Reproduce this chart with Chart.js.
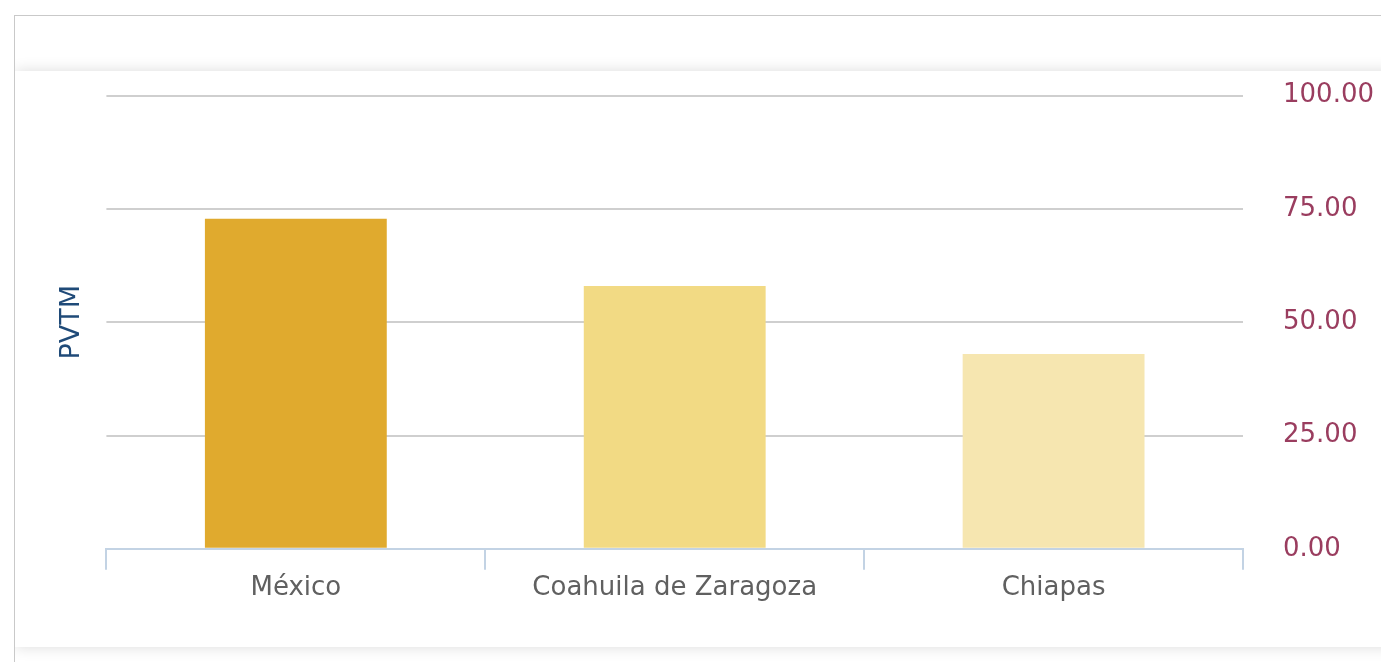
<!DOCTYPE html>
<html>
<head>
<meta charset="utf-8">
<script src="https://cdn.jsdelivr.net/npm/chart.js@4"></script>
<style>
  html, body { margin: 0; padding: 0; background: #fff; width: 1381px; height: 662px; overflow: hidden; }
  .frame { position: absolute; left: 14px; top: 15px; width: 1400px; height: 700px;
           border-left: 1px solid #c9c9c9; border-top: 1px solid #c9c9c9; overflow: hidden; }
  .panel { position: absolute; left: 0; top: 55px; width: 1420px; height: 576px; background: #fff;
           box-shadow: 0 0 14px rgba(0,0,0,0.14); }
  #wrap { position: absolute; left: -15px; top: 24px; width: 1418px; height: 607px; }
</style>
</head>
<body>
<div class="frame">
  <div class="panel"></div>
  <div id="wrap"><canvas id="chart"></canvas></div>
</div>
<script>
const categories = ['México', 'Coahuila de Zaragoza', 'Chiapas'];
const values = [72.8, 58.0, 43.0];
const barColors = ['#e0aa2e', '#f2da84', '#f6e6b0'];
const yTicks = [0, 25, 50, 75, 100];
const yTitle = 'PVTM';

const font = "'DejaVu Sans', sans-serif";

new Chart(document.getElementById('chart').getContext('2d'), {
  type: 'bar',
  data: {
    labels: categories,
    datasets: [{
      data: values,
      backgroundColor: barColors,
      borderWidth: 0,
      categoryPercentage: 1,
      barPercentage: 0.48,
      yAxisID: 'y'
    }]
  },
  options: {
    responsive: true,
    maintainAspectRatio: false,
    animation: false,
    layout: { padding: { left: 56, right: 4, top: 14, bottom: 40 } },
    plugins: { legend: { display: false }, tooltip: { enabled: false } },
    scales: {
      x: {
        grid: { offset: true, drawOnChartArea: false, drawTicks: true, tickLength: 21, color: '#c3d3e4', lineWidth: 2 },
        border: { display: true, color: '#c3d3e4', width: 2 },
        ticks: { color: '#606060', font: { family: font, size: 26 }, padding: 3 }
      },
      yLeft: {
        position: 'left',
        min: 0, max: 100,
        grid: { display: false },
        border: { display: false },
        ticks: { display: false },
        title: { display: true, text: yTitle, color: '#1f4a78', font: { family: font, size: 27 }, padding: { top: 0, bottom: 10 } }
      },
      y: {
        position: 'right',
        min: 0, max: 100,
        afterBuildTicks: s => { s.ticks = yTicks.map(v => ({ value: v })); },
        grid: {
          drawTicks: false,
          lineWidth: 2,
          color: c => c.tick && c.tick.value === 0 ? 'rgba(0,0,0,0)' : '#cfcfcf'
        },
        border: { display: false },
        ticks: {
          color: '#9a3d5f',
          font: { family: font, size: 26 },
          padding: 40,
          callback: v => Number(v).toFixed(2)
        }
      }
    }
  }
});
</script>
</body>
</html>
